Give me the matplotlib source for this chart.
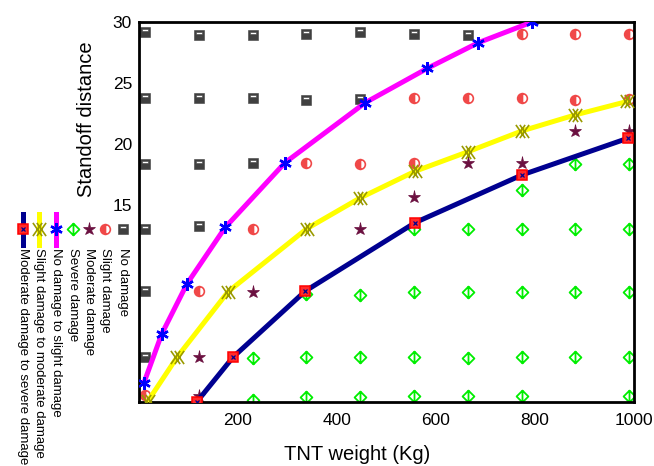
import numpy as np
import matplotlib.pyplot as plt
from matplotlib.path import Path

plt.rcParams['font.family'] = ['Liberation Sans', 'DejaVu Sans']

# scattered observations (TNT weight in kg, standoff distance)
no_dmg_x = [12, 122, 230, 338, 447, 556, 665, 12, 122, 230, 338, 447, 12, 122, 230, 12, 122, 12, 12]
no_dmg_y = [29.2, 28.9, 28.9, 29.0, 29.2, 29.0, 28.9, 23.8, 23.8, 23.8, 23.6, 23.7,
            18.4, 18.4, 18.5, 13.1, 13.3, 8.0, 2.6]

slight_x = [774, 881, 990, 556, 665, 774, 881, 990, 338, 447, 556, 230, 122, 12]
slight_y = [29.0, 29.0, 29.0, 23.8, 23.8, 23.8, 23.6, 23.7, 18.5, 18.4, 18.5, 13.1, 8.0, -0.5]

moderate_x = [447, 556, 665, 774, 881, 990, 230, 122, 122]
moderate_y = [13.1, 15.7, 18.5, 18.5, 21.1, 21.1, 7.9, 2.6, -0.6]

severe_x = [881, 990, 774,
            556, 665, 774, 881, 990,
            338, 447, 556, 665, 774, 881, 990,
            230, 338, 447, 556, 665, 774, 881, 990,
            230, 338, 447, 556, 665, 774, 990]
severe_y = [18.4, 18.4, 16.3,
            13.1, 13.1, 13.1, 13.1, 13.1,
            7.8, 7.7, 7.9, 7.9, 7.9, 7.9, 7.9,
            2.5, 2.6, 2.6, 2.6, 2.5, 2.6, 2.6, 2.6,
            -0.9, -0.65, -0.65, -0.6, -0.6, -0.6, -0.6]

# threshold curves
ns_x = [10, 46, 97, 174, 295, 457, 582, 685, 794]
ns_y = [0.5, 4.5, 8.6, 13.2, 18.5, 23.4, 26.2, 28.3, 30.0]

sm_x = [18, 77, 180, 339, 446, 558, 665, 774, 881, 986]
sm_y = [-1.0, 2.6, 7.95, 13.1, 15.6, 17.8, 19.4, 21.1, 22.4, 23.5]

ms_x = [117, 190, 336, 558, 774, 988]
ms_y = [-1.05, 2.6, 8.0, 13.6, 17.5, 20.5]

labels = ['No damage', 'Slight damage', 'Moderate damage', 'Severe damage',
          'No damage to slight damage', 'Slight damage to moderate damage',
          'Moderate damage to severe damage']

# marker shapes
box = Path([(-1, -1), (1, -1), (1, 1), (-1, 1), (-1, -1),
            (-0.6, 0.15), (-0.6, 0.6), (0.6, 0.6), (0.6, 0.15), (-0.6, 0.15)],
           [1, 2, 2, 2, 79, 1, 2, 2, 2, 79])
diam = Path([(0, 1), (1, 0), (0, -1), (-1, 0), (0, 1), (0, 1), (0, -1)],
            [1, 2, 2, 2, 79, 1, 2])
dblx = Path([(-1, -1), (0.4, 1), (-1, 1), (0.4, -1), (-0.4, -1), (1, 1), (-0.4, 1), (1, -1)],
            [1, 2, 1, 2, 1, 2, 1, 2])

st = {
    'nd': dict(marker=box, color='#404040', ms=6.5, mew=0.4),
    'sd': dict(marker='o', color='#f04848', mfc='#f04848', mfcalt='white', fillstyle='left', ms=7, mew=1.2),
    'md': dict(marker='*', color='#6b1040', ms=9.5, mew=0.5),
    'sv': dict(marker=diam, color='#00ee00', mfc='none', ms=8.5, mew=1.3),
    'ns': dict(marker=(6, 2, 0), color='blue', ms=9, mew=1.7),
    'sm': dict(marker=dblx, color='#9a9a00', ms=9.5, mew=1.2),
    'ms': dict(marker='s', color='red', mfc='#ff2a2a', ms=6.5, mew=1.1),
}

fig = plt.figure(figsize=(6.54, 4.66), dpi=100)
ax = fig.add_axes([139 / 654, 1 - 402 / 466, 495 / 654, 380 / 466])

ax.plot(no_dmg_x, no_dmg_y, ls='none', zorder=2, **st['nd'])
ax.plot(slight_x, slight_y, ls='none', zorder=2, **st['sd'])
ax.plot(moderate_x, moderate_y, ls='none', zorder=2, **st['md'])
ax.plot(severe_x, severe_y, ls='none', zorder=2, **st['sv'])

ax.plot(ns_x, ns_y, color='magenta', lw=3.6, zorder=3)
ax.plot(ns_x, ns_y, ls='none', zorder=4, **st['ns'])
ax.plot(sm_x, sm_y, color='yellow', lw=3.6, zorder=3)
ax.plot(sm_x, sm_y, ls='none', zorder=4, **st['sm'])
ax.plot(ms_x, ms_y, color='#000090', lw=3.6, zorder=3)
ax.plot(ms_x, ms_y, ls='none', zorder=4, **st['ms'])
ax.plot(ms_x, ms_y, ls='none', marker='x', color='#000090', ms=3.5, mew=0.9, zorder=5)

ax.set_xlim(0, 1000)
ax.set_ylim(-1.07, 30)
ax.set_xticks([200, 400, 600, 800, 1000])
ax.set_yticks([15, 20, 25, 30])
ax.tick_params(axis='both', length=0, labelsize=12.5)
ax.tick_params(axis='x', pad=8)
ax.tick_params(axis='y', pad=5)
for s in ax.spines.values():
    s.set_linewidth(2)

fig.text(357 / 654, 1 - 455 / 466, 'TNT weight (Kg)', ha='center', va='center', fontsize=14.5)
fig.text(86 / 654, 1 - 119 / 466, 'Standoff distance', rotation=90, ha='center', va='center', fontsize=14.5)

# rotated legend drawn by hand in pixel coordinates
lax = fig.add_axes([0, 0, 1, 1])
lax.set_xlim(0, 654)
lax.set_ylim(466, 0)
lax.axis('off')
leg_x = [123, 105, 89, 73, 56, 39, 23]
keys = ['nd', 'sd', 'md', 'sv', 'ns', 'sm', 'ms']
line_col = {'ns': 'magenta', 'sm': 'yellow', 'ms': '#000090'}
for lx, k, lab in zip(leg_x, keys, labels):
    if k in line_col:
        lax.plot([lx, lx], [214, 245], color=line_col[k], lw=3.6)
    lax.plot([lx], [229], ls='none', **st[k])
    if k == 'ms':
        lax.plot([lx], [229], ls='none', marker='x', color='#000090', ms=3.5, mew=0.9)
    lax.text(lx, 248, lab, rotation=-90, ha='center', va='top', fontsize=9.5)

fig.savefig('out.png', dpi=100)
